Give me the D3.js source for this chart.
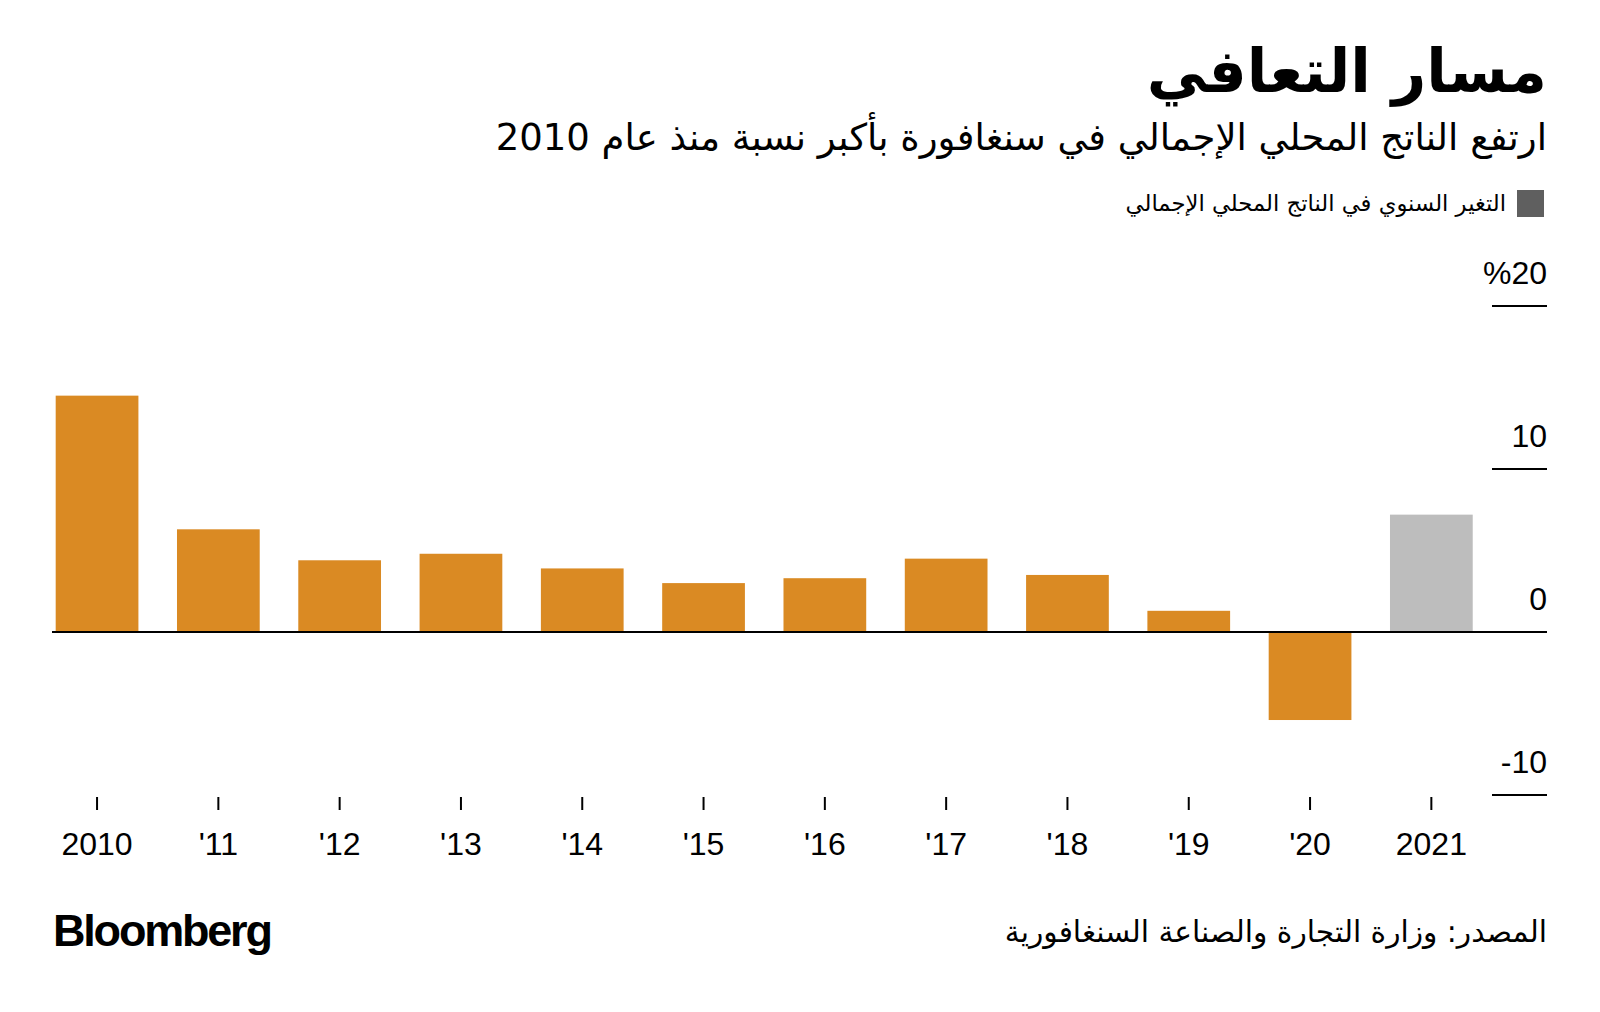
<!DOCTYPE html>
<html>
<head>
<meta charset="utf-8">
<script src="https://cdn.jsdelivr.net/npm/d3@7"></script>
<style>
  html, body { margin: 0; padding: 0; background: #fff; }
  svg { display: block; }
</style>
</head>
<body>
<svg id="chart" width="1600" height="1012"></svg>
<script>
// ---- data ----
const years = ["2010","'11","'12","'13","'14","'15","'16","'17","'18","'19","'20","2021"];
const gdpGrowth = [14.5, 6.3, 4.4, 4.8, 3.9, 3.0, 3.3, 4.5, 3.5, 1.3, -5.4, 7.2];
const isForecast = [false,false,false,false,false,false,false,false,false,false,false,true];
const yTicks = [-10, 0, 10, 20];
const yTickLabels = ["-10", "0", "10", "%20"];

const titleText = "مسار التعافي";
const subtitleText = "ارتفع الناتج المحلي الإجمالي في سنغافورة بأكبر نسبة منذ عام 2010";
const legendText = "التغير السنوي في الناتج المحلي الإجمالي";
const sourceText = "المصدر: وزارة التجارة والصناعة السنغافورية";

// ---- layout ----
const svg = d3.select("#chart");
const arabicFont = "'DejaVu Sans', 'Noto Sans', sans-serif";
const latinFont = "'Liberation Sans', Arial, Helvetica, sans-serif";
const rightEdge = 1547;

const x = d3.scaleBand()
  .domain(years)
  .range([36.4, 36.4 + 12 * 121.3])
  .paddingInner(0.318)
  .paddingOuter(0.159);

const y = d3.scaleLinear().domain([-10, 20]).range([795, 306]);

// title
svg.append("text")
  .attr("x", rightEdge).attr("y", 92)
  .attr("text-anchor", "start")
  .style("direction", "rtl")
  .attr("font-family", arabicFont)
  .attr("font-weight", "bold")
  .attr("font-size", 60)
  .attr("fill", "#000")
  .text(titleText);

// subtitle
svg.append("text")
  .attr("x", rightEdge).attr("y", 150)
  .attr("text-anchor", "start")
  .style("direction", "rtl")
  .attr("font-family", arabicFont)
  .attr("font-size", 37)
  .attr("fill", "#000")
  .text(subtitleText);

// legend
svg.append("rect")
  .attr("x", 1517).attr("y", 190).attr("width", 27).attr("height", 27)
  .attr("fill", "#5f5f5f");
svg.append("text")
  .attr("x", 1506).attr("y", 211)
  .attr("text-anchor", "start")
  .style("direction", "rtl")
  .attr("font-family", arabicFont)
  .attr("font-size", 22.7)
  .attr("fill", "#000")
  .text(legendText);

// bars
svg.append("g").selectAll("rect")
  .data(years)
  .join("rect")
  .attr("x", d => x(d))
  .attr("width", x.bandwidth())
  .attr("y", (d, i) => y(Math.max(0, gdpGrowth[i])))
  .attr("height", (d, i) => Math.abs(y(gdpGrowth[i]) - y(0)))
  .attr("fill", (d, i) => isForecast[i] ? "#bdbdbd" : "#da8a23");

// y axis: ticks on the right
const yg = svg.append("g");
yTicks.forEach((v, i) => {
  if (v === 0) {
    yg.append("line")
      .attr("x1", 52).attr("x2", rightEdge)
      .attr("y1", y(v)).attr("y2", y(v))
      .attr("stroke", "#000").attr("stroke-width", 2);
  } else {
    yg.append("line")
      .attr("x1", 1492).attr("x2", rightEdge)
      .attr("y1", y(v)).attr("y2", y(v))
      .attr("stroke", "#000").attr("stroke-width", 2);
  }
  yg.append("text")
    .attr("x", rightEdge).attr("y", y(v) - 22)
    .attr("text-anchor", "end")
    .attr("font-family", latinFont)
    .attr("font-size", 32)
    .attr("fill", "#000")
    .text(yTickLabels[i]);
});

// x axis
const xAxis = d3.axisBottom(x).tickSize(13).tickPadding(0);
const xg = svg.append("g").attr("transform", "translate(0,797)").call(xAxis);
xg.select(".domain").remove();
xg.selectAll(".tick line").attr("stroke", "#000").attr("stroke-width", 2);
xg.selectAll(".tick text")
  .attr("y", 58).attr("dy", null)
  .attr("font-family", latinFont)
  .attr("font-size", 32)
  .attr("fill", "#000");

// footer
svg.append("text")
  .attr("x", 53).attr("y", 946)
  .attr("font-family", latinFont)
  .attr("font-weight", "bold")
  .attr("font-size", 45)
  .attr("letter-spacing", -2.2)
  .attr("fill", "#000")
  .text("Bloomberg");

svg.append("text")
  .attr("x", rightEdge).attr("y", 942)
  .attr("text-anchor", "start")
  .style("direction", "rtl")
  .attr("font-family", arabicFont)
  .attr("font-size", 29.7)
  .attr("fill", "#000")
  .text(sourceText);
</script>
</body>
</html>
